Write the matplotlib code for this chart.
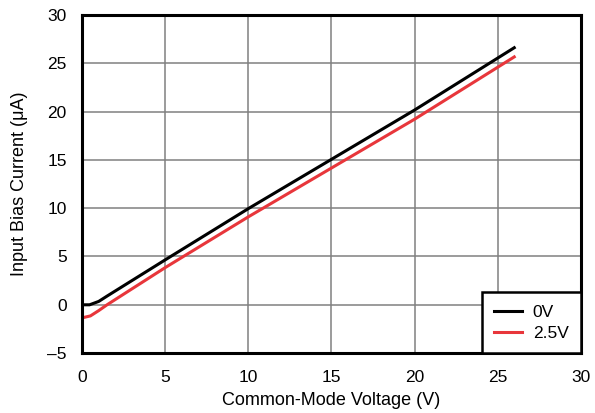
import matplotlib
matplotlib.use('Agg')
import matplotlib.pyplot as plt
from matplotlib.ticker import FuncFormatter

plt.rcParams['font.family'] = ['Liberation Sans', 'DejaVu Sans']

# Input bias current vs common-mode voltage
vcm_0v = [0, 0.45, 1.0, 1.5, 5, 10, 20, 26]
ib_0v = [0, 0, 0.35, 0.9, 4.65, 9.95, 20.15, 26.6]
vcm_25v = [0, 0.5, 1.0, 1.5, 5, 10, 20, 26]
ib_25v = [-1.35, -1.15, -0.6, 0.0, 3.85, 9.1, 19.2, 25.65]
labels = ['0V', '2.5V']

fig = plt.figure(figsize=(5.95, 4.13), dpi=100)
ax = fig.add_axes([0.138, 0.145, 0.838, 0.819])

ax.plot(vcm_0v, ib_0v, color='black', lw=2.2, label=labels[0])
ax.plot(vcm_25v, ib_25v, color='#e8363b', lw=2.2, label=labels[1])

ax.set_xlim(0, 30)
ax.set_ylim(-5, 30)
ax.set_xticks(range(0, 31, 5))
ax.set_yticks(range(-5, 31, 5))
fmt = FuncFormatter(lambda v, p: ('%d' % v).replace('-', '\u2013'))
ax.xaxis.set_major_formatter(fmt)
ax.yaxis.set_major_formatter(fmt)
ax.tick_params(length=0, labelsize=12.5)
ax.tick_params(axis='x', pad=12.5)
ax.tick_params(axis='y', pad=11)
ax.grid(True, color='#808080', lw=1.1)
for s in ax.spines.values():
    s.set_linewidth(2.2)

ax.set_xlabel('Common-Mode Voltage (V)', fontsize=13, labelpad=5)
ax.set_ylabel('Input Bias Current (\u03bcA)', fontsize=13, labelpad=14)

leg = ax.legend(loc='lower right', borderaxespad=0, fancybox=False,
                framealpha=1, edgecolor='black', fontsize=12.5,
                handlelength=1.6, handletextpad=0.6, borderpad=0.7,
                labelspacing=0.35)
leg.get_frame().set_linewidth(1.8)

fig.savefig('out.png', dpi=100)
